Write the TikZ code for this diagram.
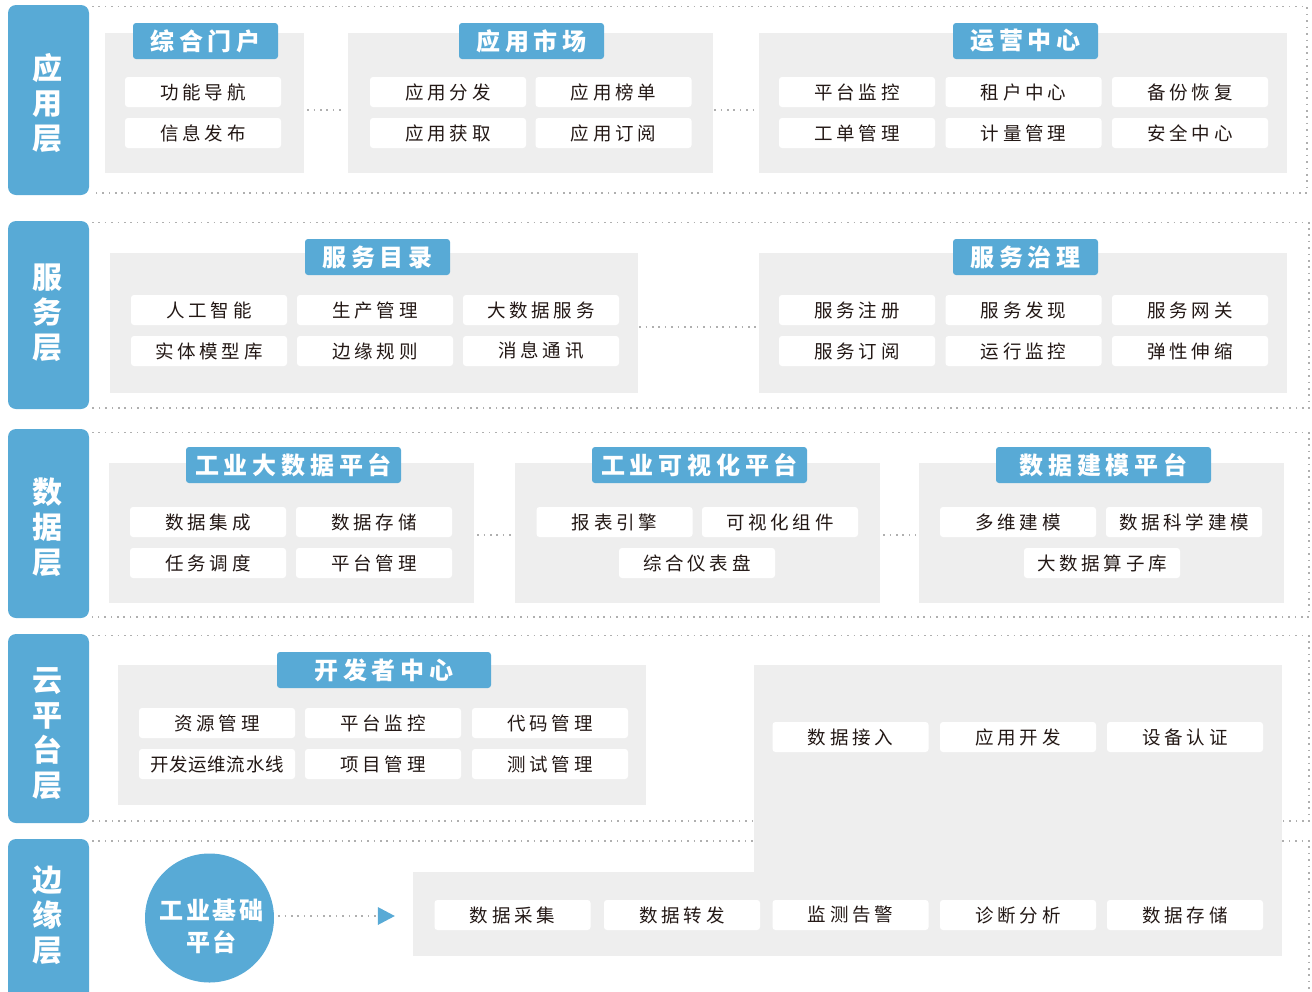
\documentclass[tikz,border=0pt]{standalone}
\usepackage{fontspec}
\usetikzlibrary{arrows.meta}
\newfontfamily\cjkitem[LetterSpace=20]{Noto Sans CJK SC}
\newfontfamily\cjktight[LetterSpace=4]{Noto Sans CJK SC}
\newfontfamily\cjktab[LetterSpace=20]{Noto Sans CJK SC}
\newfontfamily\cjkcirc[LetterSpace=10]{Noto Sans CJK SC}
\newfontfamily\cjklab{Noto Sans CJK SC}
\newcommand\myitemf{\cjkitem\fontsize{18.5}{20}\selectfont}
\newcommand\mytightf{\cjktight\fontsize{18.5}{20}\selectfont}
\newcommand\mytabf{\cjktab\bfseries\fontsize{24}{26}\selectfont}
\newcommand\mycircf{\cjkcirc\bfseries\fontsize{24}{32}\selectfont}
\newcommand\mylabf{\cjklab\bfseries\fontsize{30}{35}\selectfont}
\definecolor{myblue}{RGB}{88,170,214}
\definecolor{panelgray}{RGB}{238,238,238}
\definecolor{dotgray}{RGB}{175,175,175}
\definecolor{txt}{RGB}{35,24,21}
\tikzset{
  bar/.style={fill=myblue, rounded corners=8pt, minimum width=81pt, inner sep=0pt},
  lab/.style={text=white, font=\mylabf, align=center, inner sep=0pt},
  panel/.style={fill=panelgray, minimum height=140pt, inner sep=0pt},
  tab/.style={fill=myblue, rounded corners=3pt, minimum height=36pt, inner sep=0pt, text=white, font=\mytabf},
  item/.style={fill=white, rounded corners=3pt, minimum width=156pt, minimum height=30pt, inner sep=0pt, text=txt, font=\myitemf},
  dotline/.style={draw=dotgray, line width=1.6pt, dash pattern=on 1.6pt off 4.8pt},
}
\begin{document}
\begin{tikzpicture}[x=1pt,y=-1pt]
\useasboundingbox (0,0) rectangle (1312,991);
% layer bars
\node[bar, minimum height=190pt] (bar1) at (48.5,100) {};
\node[bar, minimum height=188pt] (bar2) at (48.5,315) {};
\node[bar, minimum height=189pt] (bar3) at (48.5,523.5) {};
\node[bar, minimum height=189pt] (bar4) at (48.5,728.5) {};
\node[bar, minimum height=170pt] (bar5) at (48.5,924) {};
\node[lab] (lab1) at (47.5,103.5) {应\\用\\层};
\node[lab] (lab2) at (47.5,313) {服\\务\\层};
\node[lab] (lab3) at (47.5,527) {数\\据\\层};
\node[lab] (lab4) at (47.5,734) {云\\平\\台\\层};
\node[lab] (lab5) at (47.5,915) {边\\缘\\层};
% dotted frames
\draw[dotline] (92,6.5) -- (1307,6.5) -- (1307,193) -- (92,193);
\draw[dotline] (92,222.5) -- (1309,222.5) -- (1309,408) -- (92,408);
\draw[dotline] (92,432.5) -- (1309,432.5) -- (1309,617) -- (92,617);
\draw[dotline] (92,635.5) -- (1309,635.5) -- (1309,821) -- (92,821);
\draw[dotline] (92,841) -- (1309,841) -- (1309,995);
% ---------- layer 1
\node[panel, minimum width=199pt] (g11) at (204.5,103) {};
\node[panel, minimum width=365pt] (g12) at (530.5,103) {};
\node[panel, minimum width=528pt] (g13) at (1023,103) {};
\node[tab, minimum width=145pt] (t11) at (205.5,41) {综合门户};
\node[tab, minimum width=145pt] (t12) at (531.5,41) {应用市场};
\node[tab, minimum width=145pt] (t13) at (1025.5,41) {运营中心};
\node[item] (a1) at (203,92) {功能导航};
\node[item] (a2) at (203,133) {信息发布};
\node[item] (a3) at (448,92) {应用分发};
\node[item] (a4) at (613.5,92) {应用榜单};
\node[item] (a5) at (448,133) {应用获取};
\node[item] (a6) at (613.5,133) {应用订阅};
\node[item] (a7) at (857,92) {平台监控};
\node[item] (a8) at (1023.5,92) {租户中心};
\node[item] (a9) at (1190,92) {备份恢复};
\node[item] (a10) at (857,133) {工单管理};
\node[item] (a11) at (1023.5,133) {计量管理};
\node[item] (a12) at (1190,133) {安全中心};
\draw[dotline, shorten <=3pt, shorten >=3pt] ([yshift=-7pt]g11.east) -- ([yshift=-7pt]g12.west);
\draw[dotline, shorten <=1pt, shorten >=2pt] ([yshift=-7pt]g12.east) -- ([yshift=-7pt]g13.west);
% ---------- layer 2
\node[panel, minimum width=528pt] (g21) at (374,323) {};
\node[panel, minimum width=528pt] (g22) at (1023,323) {};
\node[tab, minimum width=145pt] (t21) at (377.5,257) {服务目录};
\node[tab, minimum width=145pt] (t22) at (1025.5,257) {服务治理};
\node[item] (b1) at (209,310) {人工智能};
\node[item] (b2) at (375,310) {生产管理};
\node[item] (b3) at (541,310) {大数据服务};
\node[item] (b4) at (209,351) {实体模型库};
\node[item] (b5) at (375,351) {边缘规则};
\node[item] (b6) at (541,351) {消息通讯};
\node[item] (b7) at (857,310) {服务注册};
\node[item] (b8) at (1023.5,310) {服务发现};
\node[item] (b9) at (1190,310) {服务网关};
\node[item] (b10) at (857,351) {服务订阅};
\node[item] (b11) at (1023.5,351) {运行监控};
\node[item] (b12) at (1190,351) {弹性伸缩};
\draw[dotline, shorten <=1pt, shorten >=2pt] ([yshift=-4pt]g21.east) -- ([yshift=-4pt]g22.west);
% ---------- layer 3
\node[panel, minimum width=365pt] (g31) at (291.5,533) {};
\node[panel, minimum width=365pt] (g32) at (697.5,533) {};
\node[panel, minimum width=365pt] (g33) at (1101.5,533) {};
\node[tab, minimum width=215pt] (t31) at (293.5,465) {工业大数据平台};
\node[tab, minimum width=215pt] (t32) at (699.5,465) {工业可视化平台};
\node[tab, minimum width=215pt] (t33) at (1103.5,465) {数据建模平台};
\node[item] (c1) at (208,522) {数据集成};
\node[item] (c2) at (374,522) {数据存储};
\node[item] (c3) at (208,563) {任务调度};
\node[item] (c4) at (374,563) {平台管理};
\node[item] (c5) at (614.5,522) {报表引擎};
\node[item] (c6) at (780,522) {可视化组件};
\node[item] (c7) at (697,563) {综合仪表盘};
\node[item] (c8) at (1018,522) {多维建模};
\node[item] (c9) at (1184,522) {数据科学建模};
\node[item] (c10) at (1102,563) {大数据算子库};
\draw[dotline, shorten <=3pt, shorten >=3pt] ([yshift=-2pt]g31.east) -- ([yshift=-2pt]g32.west);
\draw[dotline, shorten <=3pt, shorten >=3pt] ([yshift=-2pt]g32.east) -- ([yshift=-2pt]g33.west);
% ---------- layer 4
\node[panel, minimum width=528pt] (g41) at (382,735) {};
\node[tab, minimum width=214pt] (t41) at (384,670) {开发者中心};
\node[item] (d1) at (217,723) {资源管理};
\node[item] (d2) at (383,723) {平台监控};
\node[item] (d3) at (550,723) {代码管理};
\node[item, font=\mytightf] (d4) at (217,764) {开发运维流水线};
\node[item] (d5) at (383,764) {项目管理};
\node[item] (d6) at (550,764) {测试管理};
\node[panel, minimum width=528pt, minimum height=208pt] (g42) at (1018,769) {};
\node[panel, minimum width=869pt, minimum height=84pt] (g51) at (847.5,914) {};
\node[item] (e1) at (850.5,737) {数据接入};
\node[item] (e2) at (1018,737) {应用开发};
\node[item] (e3) at (1185,737) {设备认证};
% ---------- layer 5
\node[item] (f1) at (512.5,915) {数据采集};
\node[item] (f2) at (682,915) {数据转发};
\node[item] (f3) at (850.5,915) {监测告警};
\node[item] (f4) at (1018,915) {诊断分析};
\node[item] (f5) at (1185,915) {数据存储};
\node[circle, fill=myblue, minimum size=129pt, inner sep=0pt] (circ) at (209.5,918) {};
\node[text=white, font=\mycircf, align=center, inner sep=0pt] (circtext) at (211.5,926) {工业基础\\平台};
\draw[dotline, shorten <=4pt, shorten >=18pt, -{Triangle[length=17pt,width=18pt,color=myblue,line width=0pt]}] ([yshift=2pt]circ.east) -- ([yshift=2pt]circ.east -| g51.west);
\end{tikzpicture}
\end{document}
